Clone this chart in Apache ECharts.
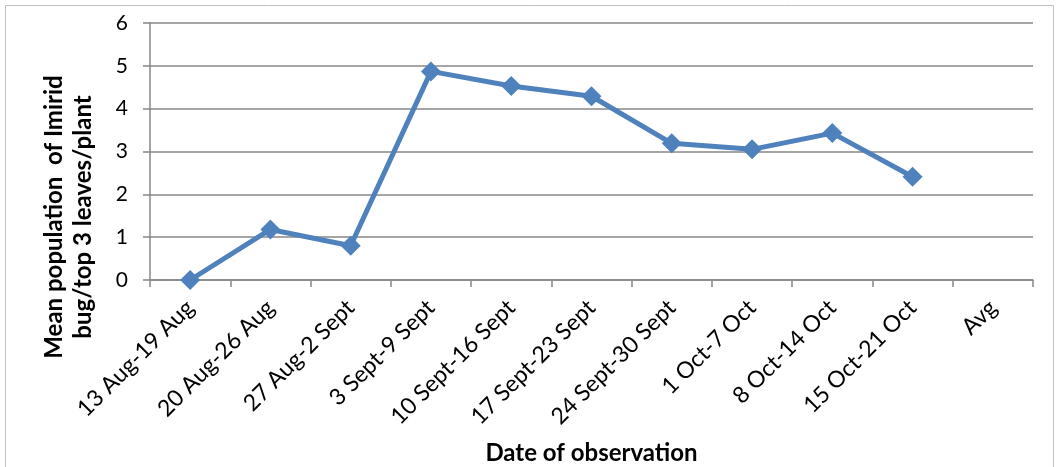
<!DOCTYPE html>
<html>
<head>
<meta charset="utf-8">
<script src="https://cdn.jsdelivr.net/npm/echarts@6/dist/echarts.min.js"></script>
<style>
html,body{margin:0;padding:0;background:#fff;}
#chart{width:1060px;height:467px;}
</style>
</head>
<body>
<div id="chart"></div>
<script>
const categories = ["13 Aug-19 Aug","20 Aug-26 Aug","27 Aug-2 Sept","3 Sept-9 Sept","10 Sept-16 Sept","17 Sept-23 Sept","24 Sept-30 Sept","1 Oct-7 Oct","8 Oct-14 Oct","15 Oct-21 Oct","Avg"];
const meanPopulation = [0, 1.18, 0.8, 4.87, 4.53, 4.29, 3.19, 3.05, 3.43, 2.41, null];
const yTicks = {min: 0, max: 6, interval: 1};
const xTitle = "Date of observation";
const yTitle = "Mean population  of Imirid\nbug/top 3 leaves/plant";

const FONT = "Lato, 'Open Sans', sans-serif";
const chart = echarts.init(document.getElementById('chart'), null, {renderer: 'canvas'});
chart.setOption({
  animation: false,
  backgroundColor: '#fff',
  grid: {left: 150, right: 27, top: 23, bottom: 187, containLabel: false, outerBoundsMode: 'none'},
  xAxis: {
    type: 'category',
    data: categories,
    boundaryGap: true,
    name: xTitle,
    nameLocation: 'middle',
    nameGap: 161,
    nameTextStyle: {fontFamily: FONT, fontSize: 24, fontWeight: 'bold', color: '#000'},
    axisLine: {lineStyle: {color: '#878787', width: 1.5}},
    axisTick: {show: true, length: 7, alignWithLabel: false, lineStyle: {color: '#878787', width: 1.5}},
    axisLabel: {rotate: 45, interval: 0, margin: 24, fontFamily: FONT, fontSize: 23, color: '#000'},
    splitLine: {show: false}
  },
  yAxis: {
    type: 'value',
    min: yTicks.min, max: yTicks.max, interval: yTicks.interval,
    axisLine: {show: true, lineStyle: {color: '#878787', width: 1.5}},
    axisTick: {show: true, length: 7, lineStyle: {color: '#878787', width: 1.5}},
    axisLabel: {margin: 22, fontFamily: FONT, fontSize: 21, color: '#000'},
    splitLine: {show: true, lineStyle: {color: '#878787', width: 1.5}}
  },
  graphic: [
    {type: 'rect', shape: {x: 5.5, y: 5.5, width: 1048, height: 470}, style: {fill: 'none', stroke: '#bfbfbf', lineWidth: 1}, silent: true, z: -1},
    {type: 'text', x: 69, y: 217, rotation: Math.PI / 2,
     style: {text: yTitle, fontFamily: FONT, fontSize: 24, fontWeight: 'bold', fill: '#000', align: 'center', verticalAlign: 'middle', lineHeight: 29}}
  ],
  series: [{
    type: 'line',
    data: meanPopulation,
    connectNulls: false,
    symbol: 'diamond',
    symbolSize: 20,
    lineStyle: {color: '#4F81BD', width: 5},
    itemStyle: {color: '#4F81BD'}
  }]
});
</script>
</body>
</html>
